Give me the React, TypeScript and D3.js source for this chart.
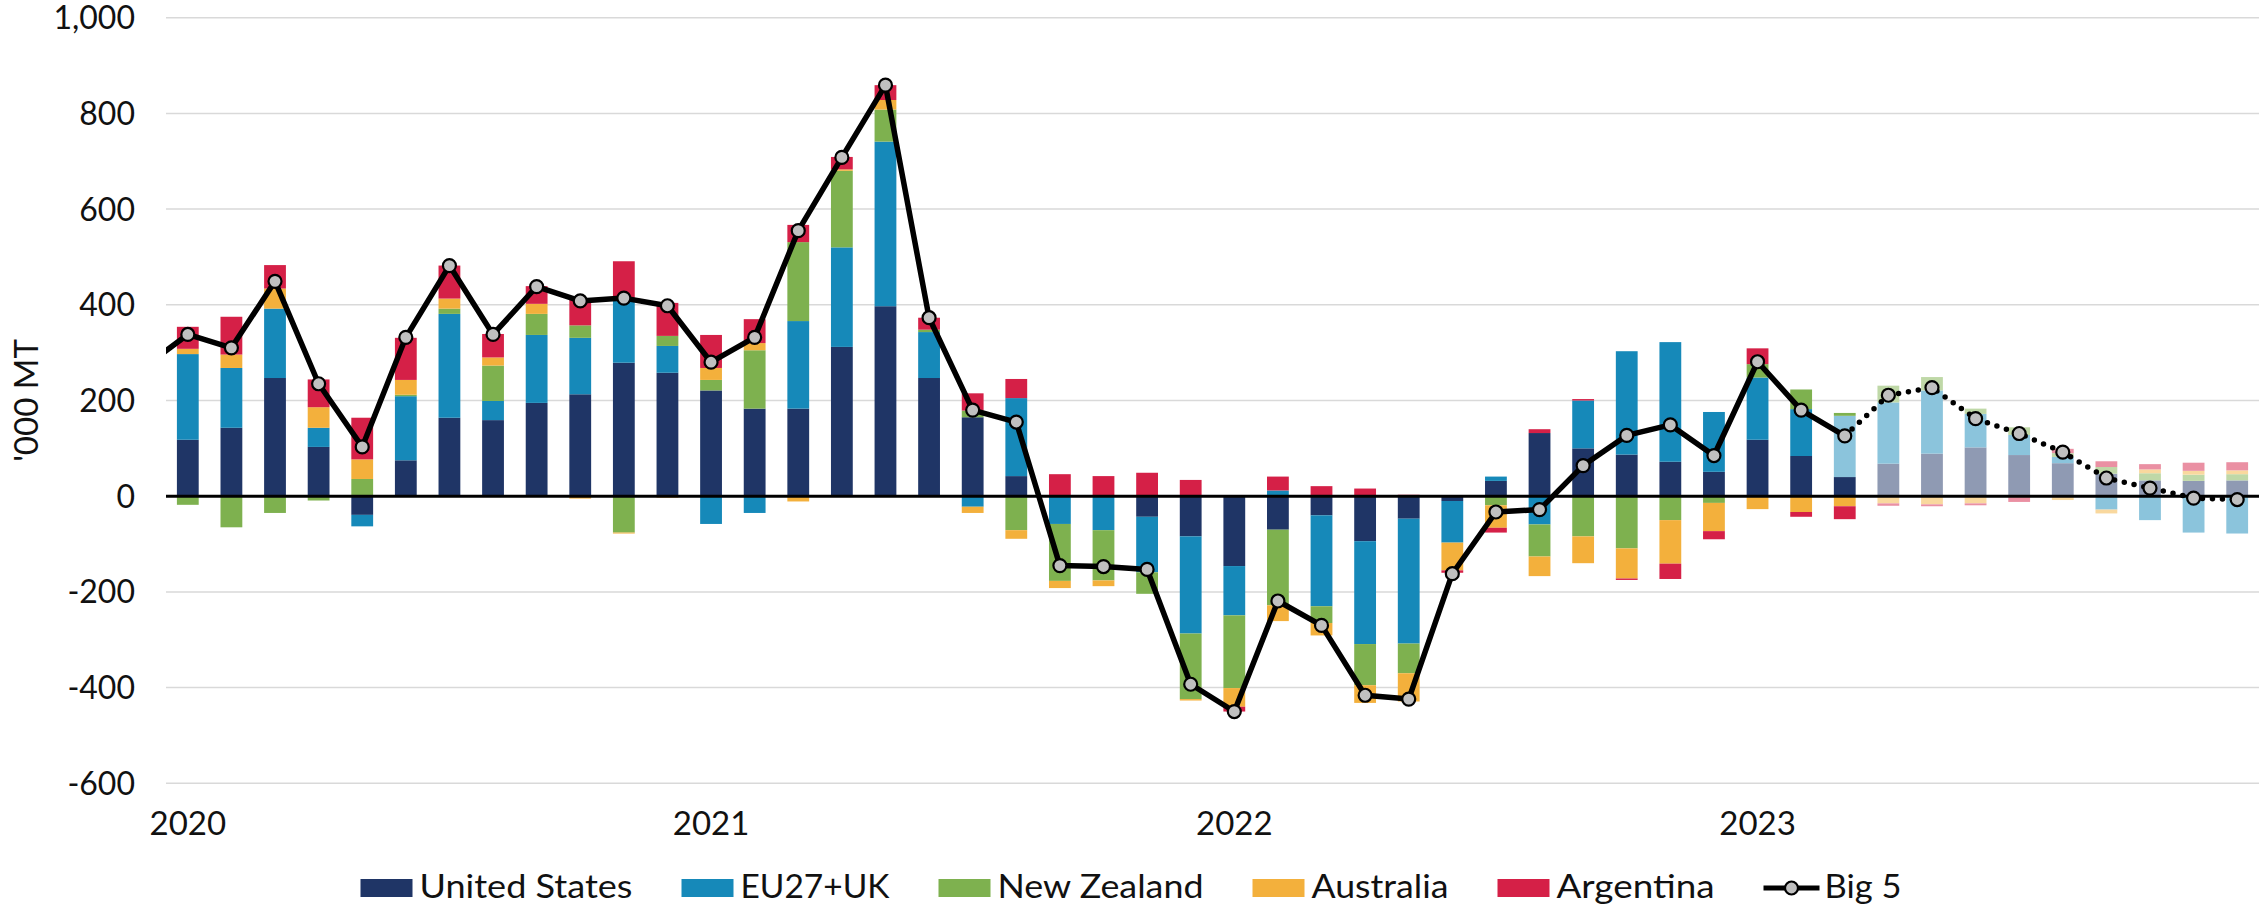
import React, { useEffect, useRef } from "react";
import * as d3 from "d3";

// monthly categories, Jan 2020 .. Dec 2023
const months = [
  "Jan 2020", "Feb 2020", "Mar 2020", "Apr 2020", "May 2020", "Jun 2020",
  "Jul 2020", "Aug 2020", "Sep 2020", "Oct 2020", "Nov 2020", "Dec 2020",
  "Jan 2021", "Feb 2021", "Mar 2021", "Apr 2021", "May 2021", "Jun 2021",
  "Jul 2021", "Aug 2021", "Sep 2021", "Oct 2021", "Nov 2021", "Dec 2021",
  "Jan 2022", "Feb 2022", "Mar 2022", "Apr 2022", "May 2022", "Jun 2022",
  "Jul 2022", "Aug 2022", "Sep 2022", "Oct 2022", "Nov 2022", "Dec 2022",
  "Jan 2023", "Feb 2023", "Mar 2023", "Apr 2023", "May 2023", "Jun 2023",
  "Jul 2023", "Aug 2023", "Sep 2023", "Oct 2023", "Nov 2023", "Dec 2023",
];

const yearLabels = ["2020", "2021", "2022", "2023"];
const yearMonths = ["Jan 2020", "Jan 2021", "Jan 2022", "Jan 2023"];
const yTicks = [-600, -400, -200, 0, 200, 400, 600, 800, 1000];

const unitedStates = [
  118, 143, 247, 103, -39, 75, 164, 159, 195, 213, 279, 258,
  221, 183, 183, 312, 397, 247, 165, 42, 0, 0, -43, -84,
  -146, -70, -40, -94, -47, -10, 32, 132, 100, 87, 72, 51,
  118, 84, 40, 68, 89, 102, 86, 69, 47, 33, 32, 33,
];
const eu27uk = [
  179, 125, 145, 40, -24, 134, 217, 40, 142, 118, 131, 56,
  -58, -35, 183, 208, 344, 96, -22, 163, -58, -71, -116, -203,
  -103, 12, -190, -215, -261, -87, 9, -59, 100, 216, 250, 125,
  130, 98, 128, 128, 132, 70, 42, 13, -28, -50, -76, -78,
];
const newZealand = [
  -18, -65, -35, -9, 36, 3, 11, 74, 44, 26, -76, 21,
  22, 122, 165, 160, 67, 5, 14, -71, -119, -105, -45, -137,
  -152, -158, -35, -86, -62, 0, -19, -67, -84, -109, -50, -14,
  28, 41, 6, 35, 28, 11, 16, 8, 14, 15, 13, 13,
];
const australia = [
  11, 28, 42, 43, 41, 31, 21, 17, 21, -5, -2, -3,
  25, 15, -11, 3, 20, 0, -13, -18, -15, -12, 0, -3,
  -39, -33, -26, -37, -59, -58, -47, -41, -56, -63, -91, -59,
  -27, -33, -21, -15, -17, -15, -2, -8, -8, 8, 8, 8,
];
const argentina = [
  46, 79, 49, 58, 87, 88, 69, 49, 37, 56, 81, 69,
  69, 50, 36, 26, 31, 25, 36, 40, 46, 42, 49, 34,
  -10, 29, 21, 16, 3, -5, -10, 8, 3, -3, -32, -17,
  33, -10, -27, -5, -4, -4, -10, 9, 12, 11, 17, 17,
];
// Big 5 total; first value is Dec 2019 (enters from the left edge)
const bigFive = [
  270,
  338, 310, 449, 235, 103, 332, 482, 338, 438, 408, 414, 398,
  280, 332, 555, 708, 859, 373, 180, 155, -145, -147, -153, -393,
  -450, -219, -270, -416, -424, -162, -33, -28, 64, 127, 149, 85,
  281, 180, 126, 211, 227, 162, 131, 92, 38, 17, -4, -7,
];

const seriesNames = ["United States", "EU27+UK", "New Zealand", "Australia", "Argentina"];
const seriesValues = [unitedStates, eu27uk, newZealand, australia, argentina];
const seriesColors = ["#1f3566", "#1689b9", "#7eb14f", "#f3b03c", "#d52047"];
// first forecast month per series (drawn faded)
const forecastFrom = ["Apr 2023", "Mar 2023", "Apr 2023", "Apr 2023", "Apr 2023"];
const lineForecastFrom = "Mar 2023";

const W = 2262;
const H = 905;
const FONT = "Lato, 'Open Sans', sans-serif";
// legend label widths as they appear in the original
const legendTextWidths = [213, 149, 206, 137, 158];
const big5TextWidth = 77;

function BeefChart() {
  const ref = useRef<SVGSVGElement>(null);

  useEffect(() => {
    const svg = d3.select(ref.current);
    svg.selectAll("*").remove();

    const left = 166;
    const right = 2259;
    const x = d3.scaleBand().domain(months).range([left, right]).paddingInner(0.5).paddingOuter(0.25);
    const y = d3.scaleLinear().domain([-600, 1000]).range([783.3, 17.7]);
    const step = x.step();
    const xc = (i) => (x(months[0]) as number) + x.bandwidth() / 2 + i * step;
    const fmt = (d) => d3.format(",")(d).replace("\u2212", "-");

    // gridlines + y labels
    const grid = svg.append("g");
    grid
      .selectAll("line")
      .data(yTicks)
      .enter()
      .append("line")
      .attr("x1", left)
      .attr("x2", right)
      .attr("y1", (d) => y(d))
      .attr("y2", (d) => y(d))
      .attr("stroke", "#d9d9d9")
      .attr("stroke-width", 1.5);
    grid
      .selectAll("text")
      .data(yTicks)
      .enter()
      .append("text")
      .attr("x", 135)
      .attr("y", (d) => y(d))
      .attr("dy", "0.36em")
      .attr("text-anchor", "end")
      .attr("font-family", FONT)
      .attr("font-size", 32)
      .attr("fill", "#111")
      .text(fmt);

    svg
      .append("text")
      .attr("transform", `translate(38,${(y(1000) + y(-600)) / 2}) rotate(-90)`)
      .attr("text-anchor", "middle")
      .attr("font-family", FONT)
      .attr("font-size", 33)
      .attr("fill", "#111")
      .text("'000 MT");

    // year labels
    svg
      .append("g")
      .selectAll("text")
      .data(yearLabels)
      .enter()
      .append("text")
      .attr("x", (d, i) => (x(yearMonths[i]) as number) + x.bandwidth() / 2)
      .attr("y", 835)
      .attr("text-anchor", "middle")
      .attr("font-family", FONT)
      .attr("font-size", 33)
      .attr("fill", "#111")
      .text((d) => d);

    // stacked bars
    const rows = months.map((m, i) => {
      const r = { month: m };
      seriesNames.forEach((s, k) => (r[s] = seriesValues[k][i]));
      return r;
    });
    const stack = d3.stack().keys(seriesNames).offset(d3.stackOffsetDiverging);
    const layers = stack(rows);
    const bars = svg.append("g");
    layers.forEach((layer, k) => {
      const full = seriesColors[k];
      const faded = d3.interpolateRgb(full, "#ffffff")(0.5);
      const fIdx = months.indexOf(forecastFrom[k]);
      bars
        .append("g")
        .selectAll("rect")
        .data(layer)
        .enter()
        .append("rect")
        .attr("x", (d) => x(d.data.month) as number)
        .attr("width", x.bandwidth())
        .attr("y", (d) => y(Math.max(d[0], d[1])))
        .attr("height", (d) => Math.abs(y(d[0]) - y(d[1])))
        .attr("fill", (d, i) => (i >= fIdx ? faded : full));
    });

    // zero line
    svg
      .append("line")
      .attr("x1", left)
      .attr("x2", right)
      .attr("y1", y(0))
      .attr("y2", y(0))
      .attr("stroke", "#000")
      .attr("stroke-width", 3);

    // Big 5 line
    svg
      .append("clipPath")
      .attr("id", "plotClip")
      .append("rect")
      .attr("x", left)
      .attr("y", 0)
      .attr("width", right - left)
      .attr("height", H);
    const pts = bigFive.map((v, j) => ({ i: j - 1, v }));
    const lf = months.indexOf(lineForecastFrom);
    const line = d3
      .line()
      .x((d) => xc(d.i))
      .y((d) => y(d.v));
    const lg = svg.append("g").attr("clip-path", "url(#plotClip)");
    lg.append("path")
      .attr("d", line(pts.filter((p) => p.i <= lf)))
      .attr("fill", "none")
      .attr("stroke", "#000")
      .attr("stroke-width", 5.5)
      .attr("stroke-linejoin", "round");
    lg.append("path")
      .attr("d", line(pts.filter((p) => p.i >= lf)))
      .attr("fill", "none")
      .attr("stroke", "#000")
      .attr("stroke-width", 5.5)
      .attr("stroke-linecap", "round")
      .attr("stroke-dasharray", "0 10");
    lg.selectAll("circle")
      .data(pts.filter((p) => p.i >= 0))
      .enter()
      .append("circle")
      .attr("cx", (d) => xc(d.i))
      .attr("cy", (d) => y(d.v))
      .attr("r", 6.5)
      .attr("fill", "#c0c0c0")
      .attr("stroke", "#000")
      .attr("stroke-width", 2.2);

    // legend
    const legend = svg.append("g");
    let cx = 0;
    seriesNames.forEach((s, k) => {
      const g = legend.append("g").attr("transform", `translate(${cx},0)`);
      g.append("rect").attr("x", 0).attr("y", 879).attr("width", 52).attr("height", 18).attr("fill", seriesColors[k]);
      g.append("text")
        .attr("x", 59)
        .attr("y", 898)
        .attr("font-family", FONT)
        .attr("font-size", 33)
        .attr("fill", "#111")
        .attr("textLength", legendTextWidths[k])
        .attr("lengthAdjust", "spacingAndGlyphs")
        .text(s);
      cx += 59 + legendTextWidths[k] + 49;
    });
    const bg = legend.append("g").attr("transform", `translate(${cx},0)`);
    bg.append("line").attr("x1", 0).attr("x2", 56).attr("y1", 888).attr("y2", 888).attr("stroke", "#000").attr("stroke-width", 5);
    bg.append("circle").attr("cx", 28).attr("cy", 888).attr("r", 6.5).attr("fill", "#c0c0c0").attr("stroke", "#000").attr("stroke-width", 2.2);
    bg.append("text")
      .attr("x", 61)
      .attr("y", 898)
      .attr("font-family", FONT)
      .attr("font-size", 33)
      .attr("fill", "#111")
      .attr("textLength", big5TextWidth)
      .attr("lengthAdjust", "spacingAndGlyphs")
      .text("Big 5");
    const total = cx + 61 + big5TextWidth;
    legend.attr("transform", `translate(${W / 2 - total / 2},0)`);
  }, []);

  return (
    <svg
      ref={ref}
      width={W}
      height={H}
      style={{ position: "absolute", left: 0, top: 0, background: "#fff" }}
    ></svg>
  );
}

export default function App() {
  return <BeefChart />;
}
